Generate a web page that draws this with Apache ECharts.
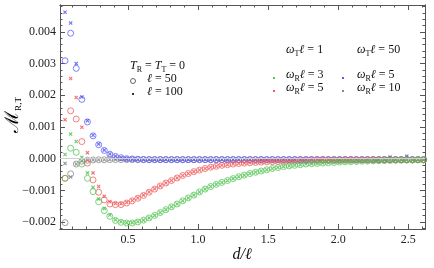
<!DOCTYPE html>
<html><head><meta charset="utf-8">
<script src="https://cdn.jsdelivr.net/npm/echarts@6/dist/echarts.min.js"></script>
<style>html,body{margin:0;padding:0;background:#fff}#c{width:434px;height:268px}</style>
</head><body><div id="c"></div>
<script>
// d/ℓ sample positions
const xValues = [0.05,0.09,0.13,0.17,0.21,0.25,0.29,0.33,0.37,0.41,0.45,0.49,0.53,0.57,0.61,0.65,0.69,0.73,0.77,0.81,0.85,0.89,0.93,0.97,1.01,1.05,1.09,1.13,1.17,1.21,1.25,1.29,1.33,1.37,1.41,1.45,1.49,1.53,1.57,1.61,1.65,1.69,1.73,1.77,1.81,1.85,1.89,1.93,1.97,2.01,2.05,2.09,2.13,2.17,2.21,2.25,2.29,2.33,2.37,2.41,2.45,2.49,2.53,2.57,2.61];
// values in units of 10^-3
// ωTℓ = 1, ωRℓ = 3 (green)
const greenL50 = [-0.62,0.33,0.20,-0.17,-0.62,-1.04,-1.36,-1.64,-1.82,-1.95,-2.01,-2.03,-2.03,-2.00,-1.94,-1.87,-1.79,-1.70,-1.61,-1.52,-1.43,-1.33,-1.24,-1.15,-1.05,-0.96,-0.88,-0.81,-0.75,-0.69,-0.63,-0.57,-0.52,-0.47,-0.43,-0.39,-0.35,-0.31,-0.28,-0.25,-0.23,-0.21,-0.19,-0.17,-0.16,-0.15,-0.14,-0.13,-0.12,-0.11,-0.10,-0.095,-0.09,-0.08,-0.075,-0.07,-0.065,-0.06,-0.055,-0.05,-0.05,-0.045,-0.045,-0.04,-0.04];
const greenL100 = [0.13,0.78,0.54,0.04,-0.45,-0.90,-1.27,-1.57,-1.78,-1.93,-1.99,-2.02,-2.02,-1.99,-1.94,-1.87,-1.79,-1.70,-1.61,-1.52,-1.43,-1.33,-1.24,-1.15,-1.05,-0.96,-0.88,-0.81,-0.75,-0.69,-0.63,-0.57,-0.52,-0.47,-0.43,-0.39,-0.35,-0.31,-0.28,-0.25,-0.23,-0.21,-0.19,-0.17,-0.16,-0.15,-0.14,-0.13,-0.12,-0.11,-0.10,-0.095,-0.09,-0.08,-0.075,-0.07,-0.065,-0.06,-0.055,-0.05,-0.05,-0.045,-0.045,-0.04,-0.04];
// ωTℓ = 1, ωRℓ = 5 (red)
const redL50 = [-0.62,1.51,1.25,0.54,-0.14,-0.67,-1.06,-1.30,-1.43,-1.45,-1.45,-1.40,-1.33,-1.25,-1.16,-1.06,-0.96,-0.86,-0.77,-0.69,-0.61,-0.53,-0.47,-0.41,-0.36,-0.31,-0.27,-0.24,-0.21,-0.19,-0.17,-0.155,-0.14,-0.13,-0.12,-0.11,-0.10,-0.095,-0.09,-0.085,-0.08,-0.075,-0.07,-0.066,-0.062,-0.058,-0.055,-0.052,-0.05,-0.048,-0.046,-0.045,-0.044,-0.043,-0.042,-0.041,-0.04,-0.04,-0.039,-0.038,-0.038,-0.037,-0.037,-0.036,-0.036];
const redL100 = [1.23,2.53,1.93,0.99,0.19,-0.45,-0.88,-1.19,-1.36,-1.41,-1.42,-1.38,-1.32,-1.24,-1.15,-1.05,-0.95,-0.86,-0.77,-0.69,-0.61,-0.53,-0.47,-0.41,-0.36,-0.31,-0.27,-0.24,-0.21,-0.19,-0.17,-0.155,-0.14,-0.13,-0.12,-0.11,-0.10,-0.095,-0.09,-0.085,-0.08,-0.075,-0.07,-0.066,-0.062,-0.058,-0.055,-0.052,-0.05,-0.048,-0.046,-0.045,-0.044,-0.043,-0.042,-0.041,-0.04,-0.04,-0.039,-0.038,-0.038,-0.037,-0.037,-0.036,-0.036];
// ωTℓ = 50, ωRℓ = 5 (blue)
const blueL50 = [3.09,3.96,2.85,1.87,1.16,0.72,0.44,0.26,0.14,0.07,0.03,0.00,-0.01,-0.02,-0.025,-0.03,-0.03,-0.03,-0.03,-0.03,-0.03,-0.03,-0.03,-0.03,-0.03,-0.03,-0.03,-0.03,-0.03,-0.03,-0.03,-0.03,-0.03,-0.03,-0.03,-0.03,-0.03,-0.03,-0.03,-0.03,-0.03,-0.03,-0.03,-0.03,-0.03,-0.03,-0.03,-0.03,-0.03,-0.03,-0.03,-0.03,-0.03,-0.03,-0.03,-0.03,-0.03,-0.03,-0.03,-0.03,-0.03,-0.03,-0.03,-0.03,-0.03];
const blueL100 = [4.62,4.28,3.00,1.95,1.20,0.74,0.46,0.27,0.15,0.08,0.03,0.00,-0.01,-0.02,-0.025,-0.03,-0.03,-0.03,-0.03,-0.03,-0.03,-0.03,-0.03,-0.03,-0.03,-0.03,-0.03,-0.03,-0.03,-0.03,-0.03,-0.03,-0.03,-0.03,-0.03,-0.03,-0.03,-0.03,-0.03,-0.03,-0.03,-0.03,-0.03,-0.03,-0.03,-0.03,-0.03,-0.03,-0.03,-0.03,-0.03,-0.03,-0.03,-0.03,-0.03,-0.03,-0.03,-0.03,0.05,-0.03,-0.03,0.08,-0.03,-0.03,-0.03];
// ωTℓ = 50, ωRℓ = 10 (gray)
const grayL50 = [-2.02,-0.48,-0.17,-0.08,-0.05,-0.04,-0.035,-0.035,-0.03,-0.03,-0.03,-0.03,-0.03,-0.03,-0.03,-0.03,-0.03,-0.03,-0.03,-0.03,-0.03,-0.03,-0.03,-0.03,-0.03,-0.03,-0.03,-0.03,-0.03,-0.03,-0.03,-0.03,-0.03,-0.03,-0.03,-0.03,-0.03,-0.03,-0.03,-0.03,-0.03,-0.03,-0.03,-0.03,-0.03,-0.03,-0.03,-0.03,-0.03,-0.03,-0.03,-0.03,-0.03,-0.03,-0.03,-0.03,-0.03,-0.03,-0.03,-0.03,-0.03,-0.03,-0.03,-0.03,-0.03];
const grayL100 = [-0.15,-0.58,-0.17,-0.07,-0.05,-0.04,-0.035,-0.035,-0.03,-0.03,-0.03,-0.03,-0.03,-0.03,-0.03,-0.03,-0.03,-0.03,-0.03,-0.03,-0.03,-0.03,-0.03,-0.03,-0.03,-0.03,-0.03,-0.03,-0.03,-0.03,-0.03,-0.03,-0.03,-0.03,-0.03,-0.03,-0.03,-0.03,-0.03,-0.03,-0.03,-0.03,-0.03,-0.03,-0.03,-0.03,-0.03,-0.03,-0.03,-0.03,-0.03,-0.03,-0.03,-0.03,-0.03,-0.03,-0.03,-0.03,-0.03,-0.03,-0.03,-0.03,-0.03,-0.03,-0.03];

// ticks
const xMajor = [0.5,1.0,1.5,2.0,2.5];
const xMajorLabels = ['0.5','1.0','1.5','2.0','2.5'];
const xMinor = [0.1,0.2,0.3,0.4,0.6,0.7,0.8,0.9,1.1,1.2,1.3,1.4,1.6,1.7,1.8,1.9,2.1,2.2,2.3,2.4,2.6];
const yMajor = [-2,-1,0,1,2,3,4];
const yMajorLabels = ['\u22120.002','\u22120.001','0.000','0.001','0.002','0.003','0.004'];
const yMinor = [-2.2,-1.8,-1.6,-1.4,-1.2,-0.8,-0.6,-0.4,-0.2,0.2,0.4,0.6,0.8,1.2,1.4,1.6,1.8,2.2,2.4,2.6,2.8,3.2,3.4,3.6,3.8,4.2,4.4,4.6,4.8];

const X_MIN = 0.014, X_MAX = 2.62, Y_MIN = -2.22, Y_MAX = 4.85;
const FONT = "'Liberation Serif','DejaVu Serif',serif";
const FRAME = '#555';

const COL = {green:'#52c452', red:'#f05a5a', blue:'#5a5af5', gray:'#888888'};
const CROSS = 'path://M0,2L2,0L5,3L8,0L10,2L7,5L10,8L8,10L5,7L2,10L0,8L3,5Z';

function pts(arr){ const out=[]; arr.forEach((v,i)=>{ if(v!==null) out.push([xValues[i], v]); }); return out; }

function xAxis(pos, ticks, len, labels){
  return {type:'value', position:pos, min:X_MIN, max:X_MAX, scale:true,
    axisLine:{show:true, onZero:false, lineStyle:{color:FRAME, width:1}},
    axisTick:{show:true, inside:true, length:len, customValues:ticks, lineStyle:{color:FRAME, width:1}},
    axisLabel:labels ? {show:true, customValues:xMajor, margin:5, color:'#222', fontFamily:FONT, fontSize:12,
      formatter:(v)=>{ const i=xMajor.findIndex(t=>Math.abs(t-v)<1e-6); return i>=0?xMajorLabels[i]:''; }} : {show:false},
    splitLine:{show:false}, minorTick:{show:false}};
}
function yAxis(pos, ticks, len, labels){
  return {type:'value', position:pos, min:Y_MIN, max:Y_MAX, scale:true,
    axisLine:{show:true, onZero:false, lineStyle:{color:FRAME, width:1}},
    axisTick:{show:true, inside:true, length:len, customValues:ticks, lineStyle:{color:FRAME, width:1}},
    axisLabel:labels ? {show:true, customValues:yMajor, margin:4, color:'#222', fontFamily:FONT, fontSize:12,
      formatter:(v)=>{ const i=yMajor.findIndex(t=>Math.abs(t-v)<1e-6); return i>=0?yMajorLabels[i]:''; }} : {show:false},
    splitLine:{show:false}, minorTick:{show:false}};
}

function circleSeries(name, arr, c){
  return {name, type:'scatter', xAxisIndex:0, yAxisIndex:0, data:pts(arr), symbol:'circle', symbolSize:6,
    itemStyle:{color:'rgba(0,0,0,0)', borderColor:c, borderWidth:0.9, opacity:0.85}, silent:true, clip:true};
}
function crossSeries(name, arr, c){
  return {name, type:'scatter', xAxisIndex:0, yAxisIndex:0, data:pts(arr), symbol:CROSS, symbolSize:4,
    itemStyle:{color:c, opacity:0.85}, silent:true, clip:true};
}

const series = [
  Object.assign(circleSeries('gray ℓ=50', grayL50, COL.gray), {markLine:{silent:true, symbol:'none', label:{show:false},
    lineStyle:{color:'#d0d0d0', width:1, type:'solid'}, data:[{yAxis:0}], animation:false}}),
  crossSeries('gray ℓ=100', grayL100, COL.gray),
  circleSeries('blue ℓ=50', blueL50, COL.blue),
  crossSeries('blue ℓ=100', blueL100, COL.blue),
  circleSeries('red ℓ=50', redL50, COL.red),
  crossSeries('red ℓ=100', redL100, COL.red),
  circleSeries('green ℓ=50', greenL50, COL.green),
  crossSeries('green ℓ=100', greenL100, COL.green)
];

const rich = {
  i:{fontFamily:FONT, fontStyle:'italic', fontSize:12, color:'#111', lineHeight:16},
  n:{fontFamily:FONT, fontSize:12, color:'#111', lineHeight:16},
  s:{fontFamily:FONT, fontSize:8, color:'#111', lineHeight:8, verticalAlign:'bottom'}
};
function txt(x,y,str){ return {type:'text', left:x, top:y, style:{text:str, rich, fill:'#111'}, silent:true}; }

const graphic = [
  txt(130, 60, '{i|T}{s|R}{n| = }{i|T}{s|T}{n| = 0}'),
  {type:'circle', shape:{cx:133, cy:81, r:2.5}, style:{fill:'none', stroke:'#555', lineWidth:0.9}, silent:true},
  txt(147, 73, '{i|ℓ}{n| = 50}'),
  {type:'rect', shape:{x:132, y:93, width:2, height:2}, style:{fill:'#333'}, silent:true},
  txt(147, 86, '{i|ℓ}{n| = 100}'),
  txt(286, 44, '{i|ω}{s|T}{i|ℓ}{n| = 1}'),
  txt(357, 44, '{i|ω}{s|T}{i|ℓ}{n| = 50}'),
  {type:'rect', shape:{x:273, y:77, width:2, height:2}, style:{fill:COL.green}, silent:true},
  txt(286, 69, '{i|ω}{s|R}{i|ℓ}{n| = 3}'),
  {type:'rect', shape:{x:273, y:90, width:2, height:2}, style:{fill:COL.red}, silent:true},
  txt(286, 82, '{i|ω}{s|R}{i|ℓ}{n| = 5}'),
  {type:'rect', shape:{x:342, y:77, width:2, height:2}, style:{fill:COL.blue}, silent:true},
  txt(357, 69, '{i|ω}{s|R}{i|ℓ}{n| = 5}'),
  {type:'rect', shape:{x:342, y:90, width:2, height:2}, style:{fill:COL.gray}, silent:true},
  txt(357, 82, '{i|ω}{s|R}{i|ℓ}{n| = 10}'),
  {type:'text', x:242, y:255, style:{text:'d/ℓ', font:"italic 16px 'Liberation Serif','DejaVu Serif',serif", fill:'#111', align:'center', verticalAlign:'middle'}, silent:true},
  {type:'text', x:13, y:115, rotation:Math.PI/2,
    style:{text:'{m|ℳ}{s|R,T}', align:'center', verticalAlign:'middle',
      rich:{m:{fontFamily:FONT, fontSize:19, color:'#111', lineHeight:20}, s:{fontFamily:FONT, fontSize:9, color:'#111', lineHeight:9, verticalAlign:'bottom'}}}, silent:true}
];

const chart = echarts.init(document.getElementById('c'), null, {renderer:'canvas', width:434, height:268});
chart.setOption({
  animation:false,
  backgroundColor:'#fff',
  grid:{left:60, right:9, top:5, bottom:39, containLabel:false},
  xAxis:[xAxis('bottom', xMajor, 5, true), xAxis('bottom', xMinor, 2.5, false), xAxis('top', xMajor, 5, false), xAxis('top', xMinor, 2.5, false)],
  yAxis:[yAxis('left', yMajor, 5, true), yAxis('left', yMinor, 2.5, false), yAxis('right', yMajor, 5, false), yAxis('right', yMinor, 2.5, false)],
  series,
  graphic
});
</script>
</body></html>
